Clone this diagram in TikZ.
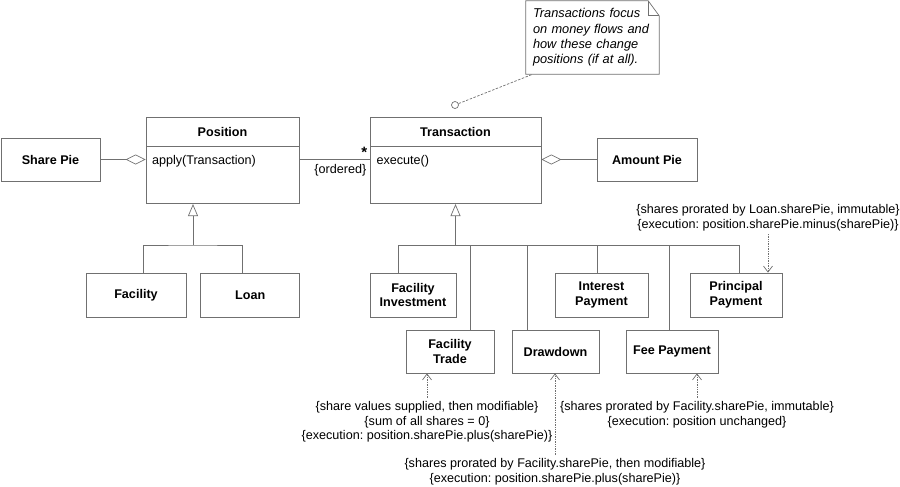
\documentclass[tikz,border=0pt]{standalone}
\usepackage{fontspec}
\setmainfont{Liberation Sans}
\usetikzlibrary{arrows.meta, positioning, calc}
\definecolor{LineGray}{RGB}{112, 112, 112}
\frenchspacing

\begin{document}
\begin{tikzpicture}[
  x=1pt, y=-1pt,
  font=\fontsize{12.6}{14.8}\selectfont,
  box/.style={rectangle, draw=LineGray, line width=0.7pt, fill=white, align=center,
              inner sep=0pt, minimum height=44pt, font=\fontsize{12.6}{14.8}\selectfont\bfseries},
  clshead/.style={box, minimum height=29pt},
  clsbody/.style={rectangle, draw=LineGray, line width=0.7pt, align=left, inner xsep=6pt,
                  inner ysep=0pt, text height=18pt, text depth=39pt},
  line/.style={draw=LineGray, line width=0.7pt},
  agg/.style={line, -{Diamond[open, length=20pt, width=10pt]}},
  gen/.style={line, -{Triangle[open, length=12pt, width=10pt]}},
  dep/.style={line, densely dotted, -{Straight Barb[length=6pt, width=9pt]}},
  tag/.style={align=center, inner sep=3pt}
]
  \useasboundingbox (0,0) rectangle (900,487);

  % classes
  \node[clshead, minimum width=153pt] (posh) at (222.5,131.5) {Position};
  \node[clsbody, text width=141pt, below=0pt of posh] (posb) {apply(Transaction)};
  \node[clshead, minimum width=171pt] (trh) at (455.5,131.5) {Transaction};
  \node[clsbody, text width=158pt, inner xsep=6.5pt, below=0pt of trh] (trb) {execute()};

  \node[box, minimum width=99pt, minimum height=43pt] (share) at (50.5,159.5) {Share Pie};
  \node[box, minimum width=100pt, minimum height=43pt] (amount) at (647,159.5) {Amount Pie};

  \node[box, minimum width=100pt] (fac) at (136,295) {Facility};
  \node[box, minimum width=99pt, right=14pt of fac] (loan) {Loan};

  \node[box, minimum width=86pt] (fi) at (413,295) {Facility\\Investment};
  \node[box, minimum width=93pt] (ip) at (601.5,295) {Interest\\Payment};
  \node[box, minimum width=92pt] (pp) at (736,295) {Principal\\Payment};
  \node[box, minimum width=88pt, minimum height=43pt] (ft) at (450,351.5) {Facility\\Trade};
  \node[box, minimum width=87pt, minimum height=43pt] (dd) at (555.5,351.5) {Drawdown};
  \node[box, minimum width=92pt, minimum height=43pt] (fp) at (672,351.5) {Fee Payment};

  % note
  \node[text width=119pt, inner xsep=7pt, minimum height=73pt, align=left,
        font=\fontsize{12.8}{15.3}\selectfont\itshape] (note) at (592.5,37.5)
        {Transactions focus\\on money flows and\\how these change\\positions (if at all).};
  \draw[line] (note.south west) -- (note.north west) -- ([xshift=-11pt]note.north east)
        -- ([yshift=-15pt]note.north east) -- (note.south east) -- cycle;
  \draw[line] ([xshift=-11pt]note.north east) |- ([yshift=-15pt]note.north east);
  \node[circle, draw=LineGray, line width=0.7pt, inner sep=0pt, minimum size=7pt] (anchor) at (455,105) {};
  \draw[line, dash pattern=on 2.5pt off 1.5pt] (anchor) -- ([xshift=7pt]note.south west);

  % associations
  \draw[agg] (share) -- (share -| posb.west);
  \draw[agg] (amount) -- (amount -| trb.east);
  \draw[line] (share -| posb.east) -- (share -| trb.west)
        node[pos=1, above left, inner sep=2pt, font=\fontsize{15}{15}\selectfont\bfseries] (many) {*}
        node[pos=1, below left, inner xsep=3pt, inner ysep=5pt] (ordered) {\{ordered\}};

  % generalisation
  \coordinate (pj) at (193,245);
  \coordinate (tj) at (trb.south |- pj);
  \draw[gen] (pj) -- (pj |- posb.south);
  \draw[line] ([xshift=7pt]fac.north) |- (pj) -| ([xshift=-7.5pt]loan.north);
  \draw[gen] (tj) -- (trb.south);
  \foreach \n/\dx in {fi/-15, ft/20, dd/-28.5, ip/-4.5, fp/-3, pp/3}
    \draw[line] ([xshift=\dx pt]\n.north) |- (tj);

  % constraints
  \node[tag, anchor=north] (ftnote) at (427,398)
        {\{share values supplied, then modifiable\}\\\{sum of all shares = 0\}\\\{execution: position.sharePie.plus(sharePie)\}};
  \node[tag, anchor=north] (ddnote) at (555,455)
        {\{shares prorated by Facility.sharePie, then modifiable\}\\\{execution: position.sharePie.plus(sharePie)\}};
  \node[tag, anchor=north] (fpnote) at (697,398)
        {\{shares prorated by Facility.sharePie, immutable\}\\\{execution: position unchanged\}};
  \node[tag, anchor=south] (ppnote) at (768,234)
        {\{shares prorated by Loan.sharePie, immutable\}\\\{execution: position.sharePie.minus(sharePie)\}};

  \draw[dep] (ftnote) -- (ftnote |- ft.south);
  \draw[dep] (ddnote) -- (ddnote |- dd.south);
  \draw[dep] (fpnote) -- (fpnote |- fp.south);
  \draw[dep] (ppnote) -- (ppnote |- pp.north);
\end{tikzpicture}
\end{document}
